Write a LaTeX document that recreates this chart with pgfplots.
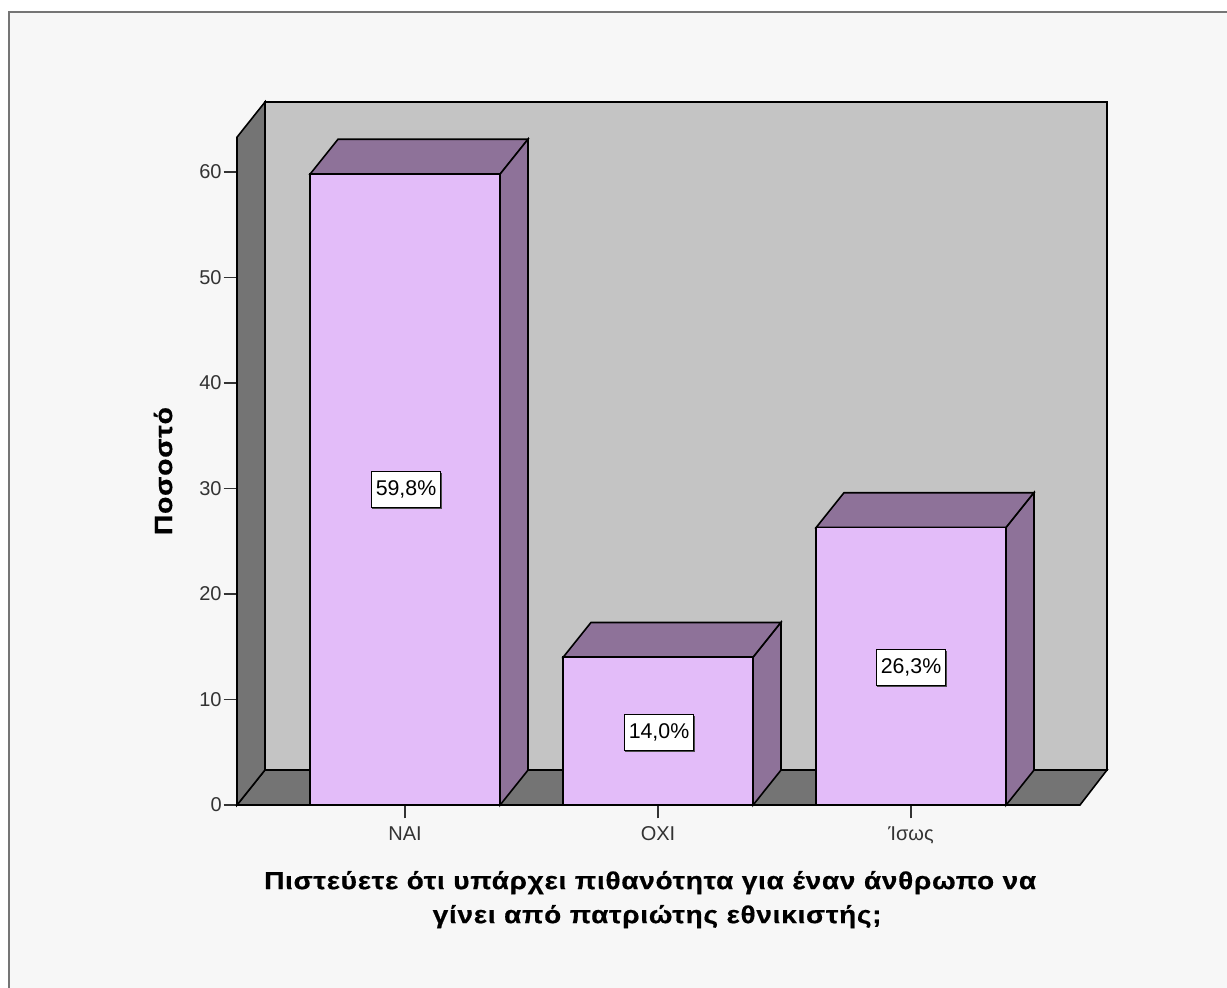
\documentclass[border=0pt]{standalone}
\usepackage{pgfplots}
\pgfplotsset{compat=1.18}
\usetikzlibrary{shadows}
\usepackage{fontspec}
\setmainfont{Liberation Sans}
\newfontfamily\titlefont[FakeStretch=1.14,LetterSpace=3,FakeBold=0.6]{Liberation Sans}
\definecolor{bgc}{HTML}{F7F7F7}
\definecolor{framec}{HTML}{757575}
\definecolor{wallc}{HTML}{C4C4C4}
\definecolor{sidec}{HTML}{747474}
\definecolor{barc}{HTML}{E3BCF9}
\definecolor{bardark}{HTML}{8E7299}
\tikzset{vallab/.style={fill=white, draw=black, line width=0.9pt, inner sep=0pt, minimum width=52pt, minimum height=27pt, font=\fontsize{16}{17}\selectfont, drop shadow={shadow xshift=0.7pt, shadow yshift=-1pt, fill=black!70, opacity=1}}}
\begin{document}
\begin{tikzpicture}[x=0.75pt,y=0.75pt]
\path[use as bounding box] (0,0) rectangle (1227,988);
\fill[white] (0,0) rectangle (1227,988);
\fill[bgc] (9,0) rectangle (1227,976);
\draw[framec,line width=2.2pt] (9,0) -- (9,976) -- (1227,976);
\begin{axis}[
  at={(177.75pt,137.25pt)}, anchor=south west,
  scale only axis, width=632.25pt, height=500.86pt,
  xmin=-0.664, xmax=2.668, ymin=0, ymax=63.3,
  clip=false,
  axis x line*=bottom, axis y line*=left,
  axis line style={-, line width=1.2pt, black},
  tick align=outside, tick pos=lower,
  major tick length=10pt,
  tick style={line width=1.1pt, black!80},
  xtick={0,1,2}, xticklabels={ΝΑΙ,ΟΧΙ,Ίσως},
  ytick={0,10,20,30,40,50,60},
  /pgf/number format/assume math mode=true,
  ticklabel style={font=\fontsize{15}{17}\selectfont, black!80},
  xticklabel style={yshift=-2.5pt},
  yticklabel style={xshift=2pt},
  xlabel={Πιστεύετε ότι υπάρχει πιθανότητα για έναν άνθρωπο να\\\hspace*{10.5pt}γίνει από πατριώτης εθνικιστής;},
  xlabel style={align=center, font=\titlefont\bfseries\fontsize{18.4}{25.5}\selectfont, at={(axis description cs:0.49,0)}, anchor=north, yshift=-46pt},
  ylabel={Ποσοστό},
  ylabel style={font=\titlefont\bfseries\fontsize{18.6}{22}\selectfont, at={(axis description cs:0,0.5)}, anchor=south, xshift=0pt, yshift=45pt},
]
% back wall, floor, left wall
\addplot[fill=wallc, draw=black, line width=1.2pt] coordinates {(-0.5534,3.32) (2.7747,3.32) (2.7747,66.63) (-0.5534,66.63)} --cycle;
\addplot[fill=sidec, draw=black, line width=1.2pt] coordinates {(-0.664,0) (-0.5534,3.32) (2.7747,3.32) (2.668,0)} --cycle;
\addplot[fill=sidec, draw=black, line width=1.2pt] coordinates {(-0.664,0) (-0.5534,3.32) (-0.5534,66.63) (-0.664,63.3)} --cycle;
% bar 1
\addplot[fill=bardark, draw=black, line width=1.2pt] coordinates {(-0.375,59.8) (-0.265,63.1) (0.486,63.1) (0.376,59.8)} --cycle;
\addplot[fill=bardark, draw=black, line width=1.2pt] coordinates {(0.376,0) (0.486,3.3) (0.486,63.1) (0.376,59.8)} --cycle;
% bar 2
\addplot[fill=bardark, draw=black, line width=1.2pt] coordinates {(0.625,14.0) (0.735,17.3) (1.486,17.3) (1.376,14.0)} --cycle;
\addplot[fill=bardark, draw=black, line width=1.2pt] coordinates {(1.376,0) (1.486,3.3) (1.486,17.3) (1.376,14.0)} --cycle;
% bar 3
\addplot[fill=bardark, draw=black, line width=1.2pt] coordinates {(1.625,26.3) (1.735,29.6) (2.486,29.6) (2.376,26.3)} --cycle;
\addplot[fill=bardark, draw=black, line width=1.2pt] coordinates {(2.376,0) (2.486,3.3) (2.486,29.6) (2.376,26.3)} --cycle;
% front faces
\addplot[ybar, bar width=142.5pt, bar shift=0pt, fill=barc, draw=black, line width=1.2pt] coordinates {(0,59.8) (1,14.0) (2,26.3)};
% value labels
\node[vallab] at (axis cs:0.004,29.9) {59,8\%};
\node[vallab] at (axis cs:1.004,6.9) {14,0\%};
\node[vallab] at (axis cs:2,13.0) {26,3\%};
\end{axis}
\end{tikzpicture}
\end{document}
